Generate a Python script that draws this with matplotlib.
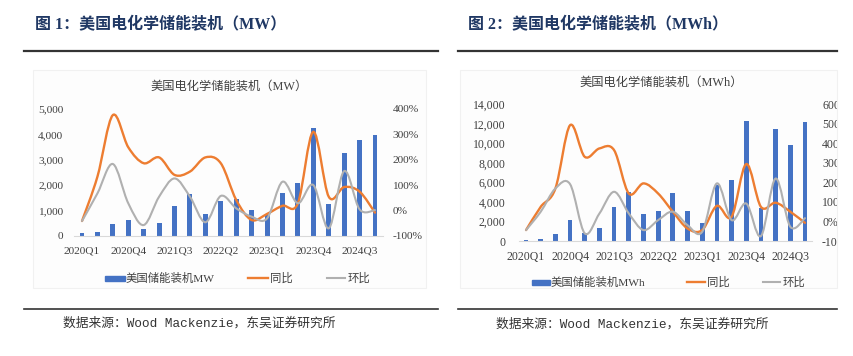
import matplotlib
matplotlib.use("Agg")
import matplotlib.pyplot as plt
from matplotlib.path import Path
from matplotlib.patches import PathPatch, Rectangle
from matplotlib.lines import Line2D
from matplotlib.transforms import Bbox, TransformedBbox

# 数据
quarters = ["2020Q1", "2020Q2", "2020Q3", "2020Q4", "2021Q1", "2021Q2", "2021Q3", "2021Q4",
            "2022Q1", "2022Q2", "2022Q3", "2022Q4", "2023Q1", "2023Q2", "2023Q3", "2023Q4",
            "2024Q1", "2024Q2", "2024Q3", "2024Q4"]
shown_labels = ["2020Q1", "2020Q4", "2021Q3", "2022Q2", "2023Q1", "2023Q4", "2024Q3"]

mw = [90, 160, 460, 630, 260, 500, 1160, 1630, 850, 1370,
      1430, 1010, 840, 1670, 2090, 4240, 1250, 3250, 3790, 3960]
mw_yoy = [-42, 133, 376, 249, 186, 209, 140, 153, 209, 186,
          41, -38, -14, 18, 28, 310, 54, 92, 74, -9]
mw_qoq = [-42, 67, 183, 28, -58, 54, 126, 54, -47, 57,
          8, -25, -32, 113, 28, 100, -71, 155, 4, 1]

mwh = [100, 200, 750, 2120, 850, 1330, 3520, 5050, 2730, 3070,
       4950, 3070, 1810, 5730, 6250, 12290, 3410, 11470, 9830, 12150]
mwh_yoy = [-44, 75, 169, 493, 331, 374, 365, 143, 195, 143,
           50, -36, -44, 80, 24, 294, 75, 96, 50, -7]
mwh_qoq = [-44, 50, 169, 191, -61, 41, 152, 41, -44, 7,
           50, -19, -53, 195, 7, 92, -75, 220, -27, 17]

BLUE = "#4472C4"
ORANGE = "#ED7D31"
GRAY = "#B0B0B0"
TXT = "#404040"
SERIF = ["Liberation Serif", "Noto Sans CJK SC"]

W, H = 854, 356


def fx(x):
    return x / W


def fy(y):
    return 1 - y / H


def smooth_path(xs, ys):
    # Excel 风格的平滑曲线（贝塞尔）
    n = len(xs)
    verts = [(xs[0], ys[0])]
    codes = [Path.MOVETO]
    for i in range(n - 1):
        xp, yp = (xs[i - 1], ys[i - 1]) if i > 0 else (xs[i], ys[i])
        xn, yn = (xs[i + 2], ys[i + 2]) if i + 2 < n else (xs[i + 1], ys[i + 1])
        c1 = (xs[i] + (xs[i + 1] - xp) / 6, ys[i] + (ys[i + 1] - yp) / 6)
        c2 = (xs[i + 1] - (xn - xs[i]) / 6, ys[i + 1] - (yn - ys[i]) / 6)
        verts += [c1, c2, (xs[i + 1], ys[i + 1])]
        codes += [Path.CURVE4] * 3
    return Path(verts, codes)


def draw_chart(fig, rect, bars, yoy, qoq, ymax, ystep, pmax, fs, xpad, lpad, rpad):
    ax = fig.add_axes(rect)
    x = list(range(len(quarters)))
    ax.bar(x, bars, width=0.32, color=BLUE, zorder=2)
    ax.set_xlim(-0.5, len(quarters) - 0.5)
    ax.set_ylim(0, ymax)
    ax.set_yticks(range(0, ymax + 1, ystep))
    ax.set_yticklabels([f"{v:,}" for v in range(0, ymax + 1, ystep)])
    ax.set_xticks([quarters.index(q) for q in shown_labels])
    ax.set_xticklabels(shown_labels)
    for s in ["top", "left", "right"]:
        ax.spines[s].set_visible(False)
    ax.spines["bottom"].set_color("#D9D9D9")
    ax.spines["bottom"].set_linewidth(0.8)
    ax.tick_params(axis="x", length=0, pad=xpad, labelsize=fs, labelcolor=TXT)
    ax.tick_params(axis="y", length=0, pad=lpad, labelsize=fs, labelcolor=TXT)
    for lab in ax.get_xticklabels() + ax.get_yticklabels():
        lab.set_family(SERIF)
    ax.patch.set_alpha(0)

    axr = ax.twinx()
    axr.set_ylim(-100, pmax)
    pt = list(range(-100, pmax + 1, 100))
    axr.set_yticks(pt)
    axr.set_yticklabels([f"{v}%" for v in pt])
    for s in ["top", "left", "right", "bottom"]:
        axr.spines[s].set_visible(False)
    axr.tick_params(axis="y", length=0, pad=rpad, labelsize=fs, labelcolor=TXT)
    for lab in axr.get_yticklabels():
        lab.set_family(SERIF)
    axr.add_patch(PathPatch(smooth_path(x, yoy), fill=False, edgecolor=ORANGE,
                            lw=1.7, capstyle="round", joinstyle="round", zorder=3))
    axr.add_patch(PathPatch(smooth_path(x, qoq), fill=False, edgecolor=GRAY,
                            lw=1.5, capstyle="round", joinstyle="round", zorder=4))
    return ax, axr


def draw_legend(fig, yc, patch_x, orange_x, gray_x, unit):
    fig.patches.append(Rectangle((fx(patch_x[0]), fy(yc + 2.5)), (patch_x[1] - patch_x[0]) / W, 5 / H,
                                 transform=fig.transFigure, color=BLUE))
    fig.text(fx(patch_x[1] + 1), fy(yc), "美国储能装机" + unit, family=SERIF, fontsize=8.2,
             color=TXT, va="center")
    fig.lines.append(Line2D([fx(orange_x[0]), fx(orange_x[1])], [fy(yc), fy(yc)],
                            transform=fig.transFigure, color=ORANGE, lw=1.7))
    fig.text(fx(orange_x[1] + 2), fy(yc), "同比", family=SERIF, fontsize=8.2, color=TXT, va="center")
    fig.lines.append(Line2D([fx(gray_x[0]), fx(gray_x[1])], [fy(yc), fy(yc)],
                            transform=fig.transFigure, color=GRAY, lw=1.5))
    fig.text(fx(gray_x[1] + 3), fy(yc), "环比", family=SERIF, fontsize=8.2, color=TXT, va="center")


fig = plt.figure(figsize=(W / 100, H / 100), dpi=100)
fig.patch.set_facecolor("white")

# 图表背景框
for x0, x1 in [(33, 426), (460, 837)]:
    fig.patches.append(Rectangle((fx(x0), fy(288)), (x1 - x0) / W, (288 - 70) / H,
                                 transform=fig.transFigure, facecolor="#FDFDFD",
                                 edgecolor="#F1F1F1", lw=0.8, zorder=-5))

# 标题与分隔线
fig.text(fx(35), fy(25), "图 1：美国电化学储能装机（MW）", family=SERIF, fontsize=11.5,
         weight="bold", color="#203864", va="center")
fig.text(fx(468), fy(25), "图 2：美国电化学储能装机（MWh）", family=SERIF, fontsize=11.5,
         weight="bold", color="#203864", va="center")
for x0, x1 in [(24, 438), (458, 837)]:
    fig.lines.append(Line2D([fx(x0), fx(x1)], [fy(51), fy(51)], transform=fig.transFigure,
                            color="#333333", lw=1.6))
    fig.lines.append(Line2D([fx(x0), fx(x1)], [fy(309), fy(309)], transform=fig.transFigure,
                            color="#333333", lw=1.2))

src = "数据来源：Wood Mackenzie，东吴证券研究所"
fig.text(fx(63), fy(323), src, family=["Liberation Mono", "Noto Sans CJK SC"], fontsize=9.2,
         color="#333333", va="center")
fig.text(fx(496), fy(324), src, family=["Liberation Mono", "Noto Sans CJK SC"], fontsize=9.2,
         color="#333333", va="center")

# 图1
draw_chart(fig, [fx(74.3), fy(235.7), (382.7 - 74.3) / W, (235.7 - 109) / H],
           mw, mw_yoy, mw_qoq, 5000, 1000, 400, 8.2, 7.8, 8, 7)
fig.text(fx(229), fy(87), "美国电化学储能装机（MW）", family=SERIF, fontsize=8.8,
         color=TXT, ha="center", va="center")
draw_legend(fig, 278, (105, 125), (248, 268), (327, 345), "MW")

# 图2
ax2, ax2r = draw_chart(fig, [fx(518.7), fy(241), (812.3 - 518.7) / W, (241 - 104.3) / H],
                       mwh, mwh_yoy, mwh_qoq, 14000, 2000, 600, 8.5, 7, 9.5, 7)
fig.text(fx(661), fy(83), "美国电化学储能装机（MWh）", family=SERIF, fontsize=8.8,
         color=TXT, ha="center", va="center")
draw_legend(fig, 282, (532, 550), (687, 705), (763, 780), "MWh")

# 右轴标签在图表边框处被截断
clip = TransformedBbox(Bbox([[0, 0], [837 / W, 1]]), fig.transFigure)
for tick in ax2r.yaxis.get_major_ticks():
    for lab in (tick.label1, tick.label2):
        lab.set_clip_box(clip)
        lab.set_clip_on(True)

fig.savefig("out.png", dpi=100)
